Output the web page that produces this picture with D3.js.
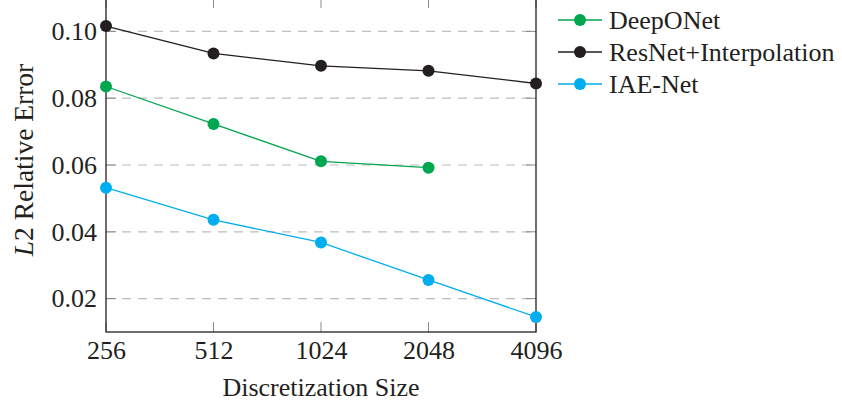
<!DOCTYPE html>
<html>
<head>
<meta charset="utf-8">
<script src="https://cdn.jsdelivr.net/npm/d3@7"></script>
<style>
  html, body { margin: 0; padding: 0; background: #fff; }
  svg { display: block; }
  text { font-family: "Liberation Serif", "Times New Roman", serif; fill: #231f20; }
</style>
</head>
<body>
<svg id="chart" width="842" height="406"></svg>
<script>
const sizes = [256, 512, 1024, 2048, 4096];
const yTicks = [0.02, 0.04, 0.06, 0.08, 0.10];
const deepONet = [0.0835, 0.0723, 0.0611, 0.0592];
const resNetInterp = [0.1016, 0.0934, 0.0897, 0.0882, 0.0844];
const iaeNet = [0.0532, 0.0436, 0.0368, 0.0256, 0.0145];
const seriesNames = ["DeepONet", "ResNet+Interpolation", "IAE-Net"];
const seriesColors = ["#00a650", "#231f20", "#00aeef"];
const seriesValues = [deepONet, resNetInterp, iaeNet];

(function () {
const svg = d3.select("#chart");
const pL = 106, pR = 536, pT = -2, pB = 332;
const fs = 26;

const x = d3.scaleLog().base(2).domain([256, 4096]).range([pL, pR]);
const y = d3.scaleLinear().domain([0.01, 0.11]).range([pB, pT]);

// grid
svg.append("g").selectAll("line").data(yTicks).join("line")
  .attr("x1", pL).attr("x2", pR)
  .attr("y1", d => y(d)).attr("y2", d => y(d))
  .attr("stroke", "#bdbdbd").attr("stroke-width", 1.2)
  .attr("stroke-dasharray", "9,7");

// inner tick marks (gray)
const tickG = svg.append("g").attr("stroke", "#8a8a8a").attr("stroke-width", 1);
tickG.selectAll("line.xb").data(sizes).join("line").attr("class", "xb")
  .attr("x1", d => x(d)).attr("x2", d => x(d)).attr("y1", pB).attr("y2", pB - 10);
tickG.selectAll("line.xt").data(sizes).join("line").attr("class", "xt")
  .attr("x1", d => x(d)).attr("x2", d => x(d)).attr("y1", pT).attr("y2", pT + 10);
tickG.selectAll("line.yl").data(yTicks).join("line").attr("class", "yl")
  .attr("x1", pL).attr("x2", pL + 10).attr("y1", d => y(d)).attr("y2", d => y(d));
tickG.selectAll("line.yr").data(yTicks).join("line").attr("class", "yr")
  .attr("x1", pR).attr("x2", pR - 10).attr("y1", d => y(d)).attr("y2", d => y(d));

// frame
svg.append("rect").attr("x", pL).attr("y", pT).attr("width", pR - pL).attr("height", pB - pT)
  .attr("fill", "none").attr("stroke", "#231f20").attr("stroke-width", 1.3);

// axes labels via d3 axis
const xAxis = d3.axisBottom(x).tickValues(sizes).tickFormat(d3.format("d")).tickSize(0).tickPadding(9);
const gx = svg.append("g").attr("transform", `translate(0,${pB})`).call(xAxis);
gx.select(".domain").remove();
gx.selectAll("text").attr("font-size", fs).attr("fill", "#231f20");

const yAxis = d3.axisLeft(y).tickValues(yTicks).tickFormat(d3.format(".2f")).tickSize(0).tickPadding(9);
const gy = svg.append("g").attr("transform", `translate(${pL},0)`).call(yAxis);
gy.select(".domain").remove();
gy.selectAll("text").attr("font-size", fs).attr("fill", "#231f20");

// axis titles
svg.append("text").attr("x", (pL + pR) / 2).attr("y", 396)
  .attr("text-anchor", "middle").attr("font-size", fs).text("Discretization Size");
const yl = svg.append("text").attr("transform", `translate(33,160) rotate(-90)`)
  .attr("text-anchor", "middle").attr("font-size", 27.5);
yl.append("tspan").attr("font-style", "italic").text("L");
yl.append("tspan").text("2 Relative Error");

// series
const line = d3.line().x((d, i) => x(sizes[i])).y(d => y(d));
seriesValues.forEach((vals, k) => {
  const g = svg.append("g");
  g.append("path").datum(vals).attr("d", line).attr("fill", "none")
    .attr("stroke", seriesColors[k]).attr("stroke-width", 1.3);
  g.selectAll("circle").data(vals).join("circle")
    .attr("cx", (d, i) => x(sizes[i])).attr("cy", d => y(d)).attr("r", 6)
    .attr("fill", seriesColors[k]);
});

// legend
const lg = svg.append("g");
seriesNames.forEach((name, k) => {
  const ly = 20 + k * 32;
  lg.append("line").attr("x1", 558).attr("x2", 602).attr("y1", ly).attr("y2", ly)
    .attr("stroke", seriesColors[k]).attr("stroke-width", 1.3);
  lg.append("circle").attr("cx", 580).attr("cy", ly).attr("r", 6).attr("fill", seriesColors[k]);
  lg.append("text").attr("x", 609).attr("y", ly).attr("dy", "0.34em")
    .attr("font-size", fs).text(name);
});
})();
</script>
</body>
</html>
